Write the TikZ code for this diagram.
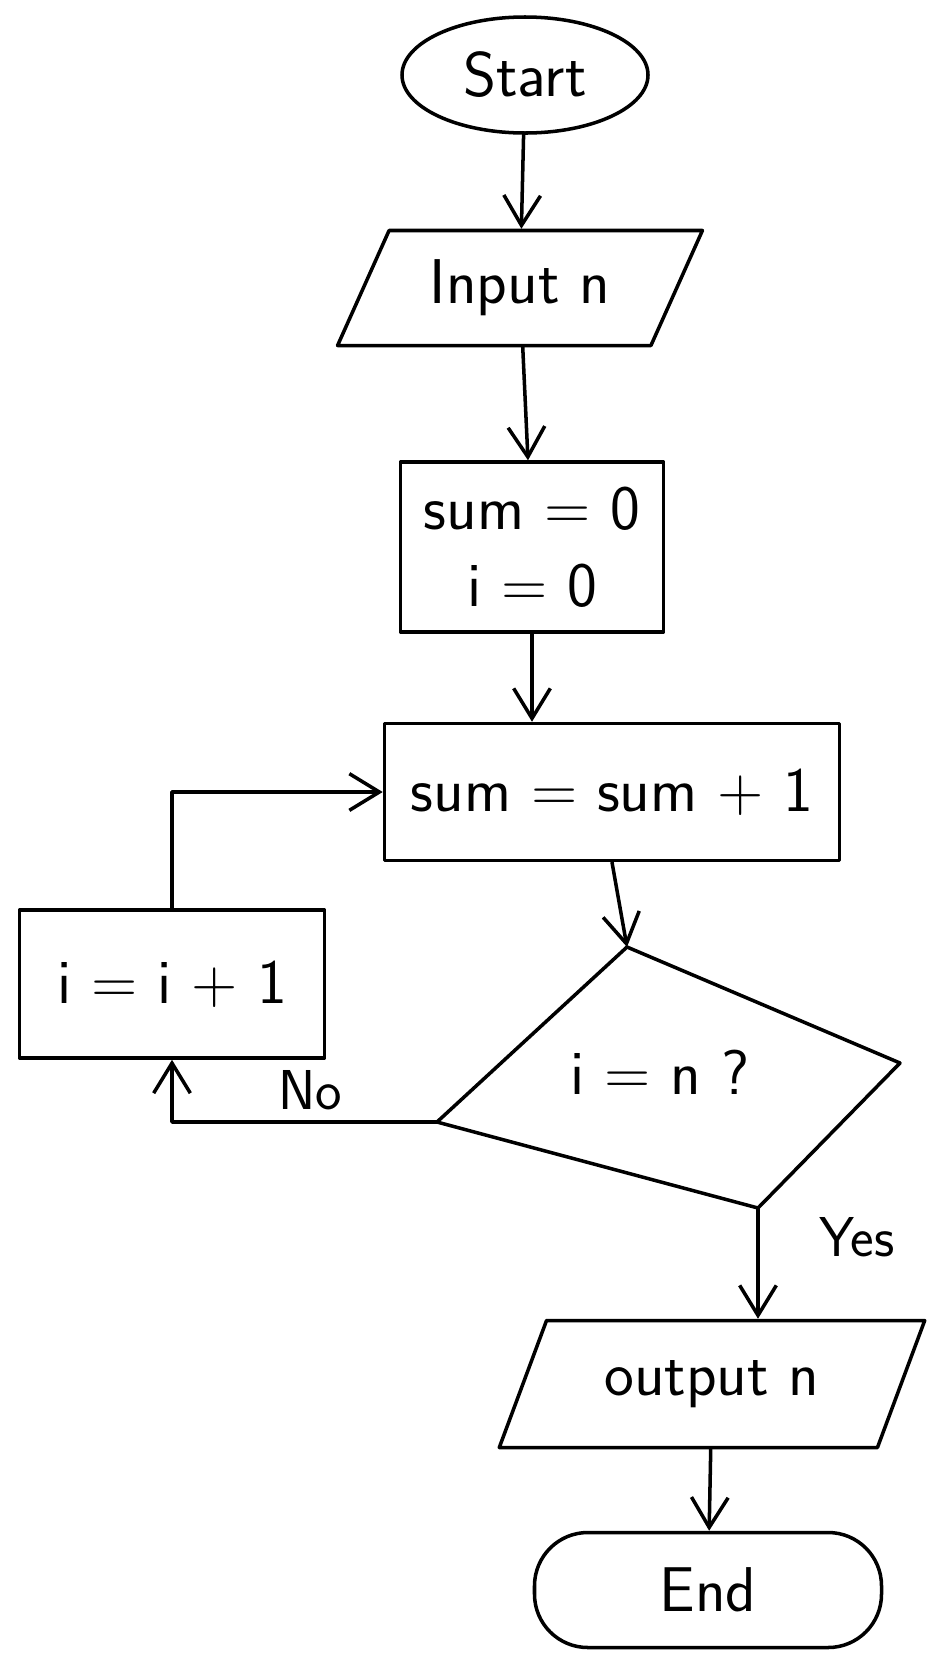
\documentclass[tikz,border=0pt]{standalone}
\usetikzlibrary{shapes.geometric,arrows.meta}
\tikzset{
	shp/.style={draw, line width=3pt, align=center, font=\sffamily\fontsize{54}{66}\selectfont},
	io/.style={shp, trapezium, trapezium left angle=60, trapezium right angle=120, trapezium stretches=true},
	flow/.style={line width=3pt, -{Straight Barb[length=0.9cm,width=1.1cm,line width=3pt]}},
	lbl/.style={font=\sffamily\fontsize{48}{58}\selectfont}
}

\begin{document}
\begin{tikzpicture}[x=0.03cm, y=-0.03cm, line join=round, line cap=round]
				\useasboundingbox (0,0) rectangle (946,1666);
				
				\node[shp, ellipse, minimum width=7.38cm, minimum height=3.48cm] (start) at (525,75) {Start};
				\node[io, minimum width=10.95cm, minimum height=3.45cm] (inp) at (520,288) {Input n};
				\node[shp, minimum width=7.89cm, minimum height=5.1cm] (init) at (532,547) {sum = 0\\i = 0};
				\node[shp, minimum width=13.65cm, minimum height=4.11cm] (add) at (612,792) {sum = sum + 1};
				\node[shp, minimum width=9.15cm, minimum height=4.44cm] (inc) at (172,984) {i = i + 1};
				
				% decision
				\coordinate (dtop) at (627,947);
				\coordinate (dright) at (900,1063);
				\coordinate (dbot) at (758,1208);
				\coordinate (dleft) at (437,1122);
				\draw[line width=3pt] (dtop) -- (dright) -- (dbot) -- (dleft) -- cycle;
				\node[shp, draw=none] (cond) at (660,1072) {i = n ?};
				
				\node[io, minimum width=12.81cm, minimum height=3.81cm] (out) at (712,1384) {output n};
				\node[shp, rounded corners=1.6cm, minimum width=10.41cm, minimum height=3.45cm] (stop) at (708,1590) {End};
				
				\draw[flow] (start) -- (inp);
				\draw[flow] (inp) -- (init);
				\draw[flow] (init.south) -- (init.south |- add.north);
				\draw[flow] (add.south) -- (dtop);
				\draw[flow] (dbot) -- (dbot |- out.north);
				\draw[flow] (out) -- (stop);
				\draw[flow] (dleft) -| (inc.south);
				\draw[flow] (inc.north) |- (add.west);
				
				\node[lbl] (no) at (310,1090) {No};
				\node[lbl] (yes) at (857,1237) {Yes};
\end{tikzpicture}
\end{document}
